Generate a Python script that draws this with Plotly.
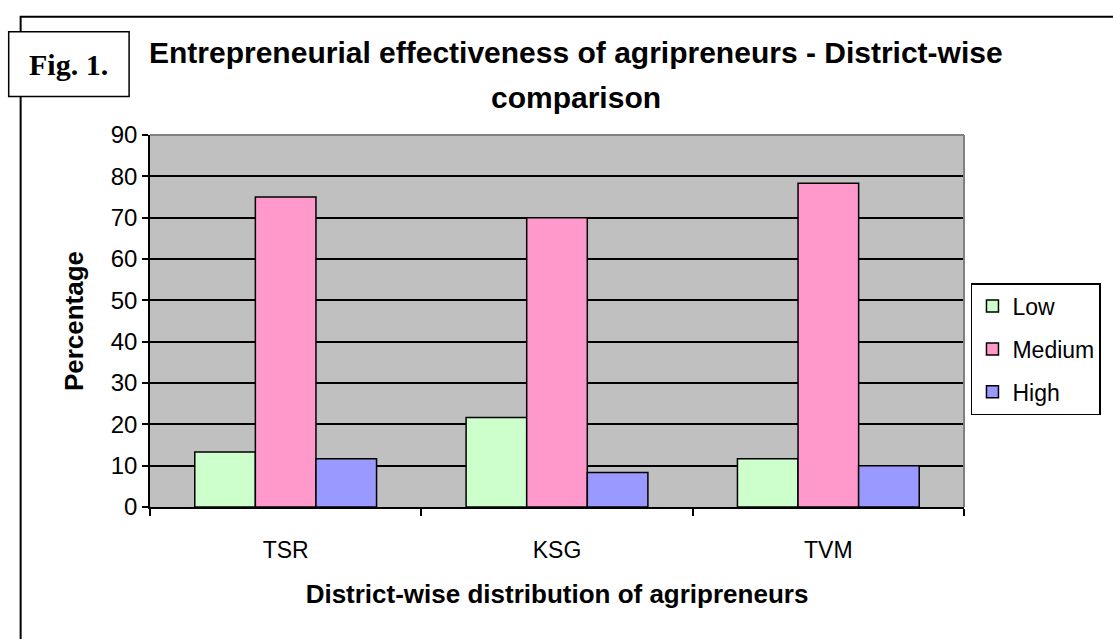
import plotly.graph_objects as go

districts = ["TSR", "KSG", "TVM"]
low = [13.33, 21.67, 11.67]
medium = [75.0, 70.0, 78.33]
high = [11.67, 8.33, 10.0]
y_ticks = list(range(0, 100, 10))

series = [("Low", low, "#CCFFCC"), ("Medium", medium, "#FF99CC"), ("High", high, "#9999FF")]

W, H = 1113, 639
L, R, T, B = 150, 968, 134.5, 507.5
pw, ph = R - L, B - T

def px(x):
    return (x - L) / pw

def py(y):
    return (B - y) / ph

ARIAL = "Arial, Liberation Sans, sans-serif"

fig = go.Figure()
for name, vals, col in series:
    fig.add_trace(go.Bar(
        x=districts, y=vals, name=name, legendgroup=name,
        marker=dict(color=col, line=dict(color="black", width=1.5)),
    ))

fig.update_layout(
    width=W, height=H,
    margin=dict(l=L, r=W - R, t=T, b=H - B, pad=0),
    paper_bgcolor="white",
    plot_bgcolor="#C0C0C0",
    barmode="group",
    bargap=0.33,
    bargroupgap=0,
    font=dict(family=ARIAL, color="black", size=22),
    showlegend=True,
    legend=dict(
        x=px(975), y=py(283), xanchor="left", yanchor="top",
        bgcolor="white", bordercolor="black", borderwidth=1.5,
        font=dict(family=ARIAL, size=23, color="black"),
        traceorder="grouped", tracegroupgap=10,
        itemwidth=30,
    ),
    xaxis=dict(
        showline=True, linecolor="black", linewidth=1.5,
        ticks="outside", ticklen=7, tickcolor="black", tickwidth=1.5,
        tickson="boundaries",
        tickfont=dict(size=23),
        ticklabelstandoff=22,
        title=dict(text="<b>District-wise distribution of agripreneurs</b>",
                   font=dict(size=26), standoff=22),
        showgrid=False,
    ),
    yaxis=dict(
        range=[0, 90], tickvals=y_ticks, ticktext=[str(v) for v in y_ticks],
        showline=True, linecolor="black", linewidth=1.5,
        ticks="outside", ticklen=6, tickcolor="black", tickwidth=1.5,
        tickfont=dict(size=24),
        showgrid=True, gridcolor="black", gridwidth=1.5,
        zeroline=False,
        title=dict(text="<b>Percentage</b>", font=dict(size=26), standoff=20),
    ),
    shapes=[
        # outer frame
        dict(type="rect", xref="paper", yref="paper",
             x0=px(20), x1=px(1125), y0=py(650), y1=py(16),
             line=dict(color="black", width=2), fillcolor="rgba(0,0,0,0)", layer="above"),
        # plot area grey border (top & right)
        dict(type="line", xref="paper", yref="paper", x0=0, x1=1, y0=1, y1=1,
             line=dict(color="#808080", width=2)),
        dict(type="line", xref="paper", yref="paper", x0=1, x1=1, y0=0, y1=1,
             line=dict(color="#808080", width=2)),
        # Fig. 1. box
        dict(type="rect", xref="paper", yref="paper",
             x0=px(8), x1=px(129), y0=py(96), y1=py(31),
             line=dict(color="black", width=1.5), fillcolor="white", layer="above"),
    ],
    annotations=[
        dict(text="<b>Fig. 1.</b>", xref="paper", yref="paper",
             x=px(68), y=py(63.5), xanchor="center", yanchor="middle", showarrow=False,
             font=dict(family="Times New Roman, Liberation Serif, serif", size=30, color="black")),
        dict(text="<b>Entrepreneurial effectiveness of agripreneurs - District-wise</b>",
             xref="paper", yref="paper", x=px(578), y=py(52),
             xanchor="center", yanchor="middle", showarrow=False,
             font=dict(family=ARIAL, size=30, color="black")),
        dict(text="<b>comparison</b>",
             xref="paper", yref="paper", x=px(578), y=py(97),
             xanchor="center", yanchor="middle", showarrow=False,
             font=dict(family=ARIAL, size=30, color="black")),
    ],
)

fig.write_html("out.html", config={"displayModeBar": False},
               post_script="document.body.style.margin='0';")
